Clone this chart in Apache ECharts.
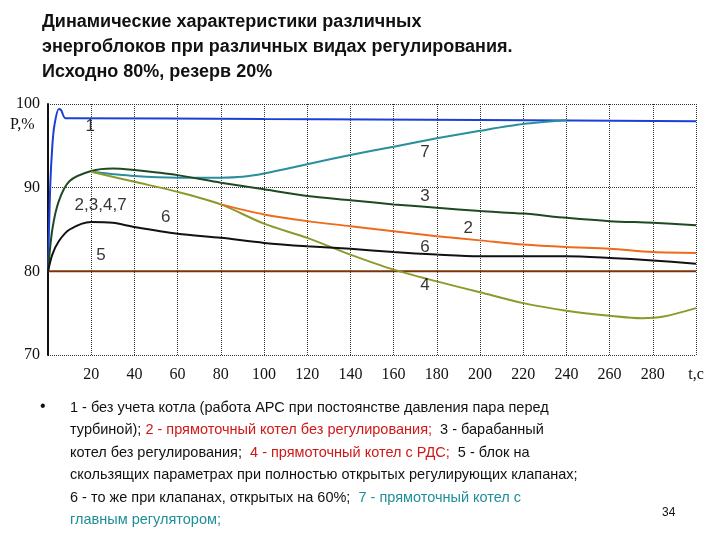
<!DOCTYPE html>
<html>
<head>
<meta charset="utf-8">
<script src="https://cdn.jsdelivr.net/npm/echarts@6/dist/echarts.min.js"></script>
<style>html,body{margin:0;padding:0;background:#fff}#chart{width:720px;height:540px}</style>
</head>
<body>
<div id="chart"></div>
<script>
// values, [t, P%]
var curve1 = [[0, 80], [1, 90], [2, 95], [3, 97.5], [5, 99.4], [6, 99.3], [8, 98.3], [10, 98.3], [100, 98.2], [200, 98.1], [300, 97.95]];
var curve3 = [[0, 80], [2, 85], [5, 88.4], [10, 90.8], [20, 92.0], [30, 92.3], [40, 92.1], [60, 91.5], [80, 90.6], [100, 89.8], [120, 89.0], [140, 88.5], [160, 88.0], [180, 87.6], [200, 87.2], [220, 86.9], [240, 86.4], [260, 86.0], [280, 85.8], [300, 85.5]];
var curve7 = [[20, 91.9], [40, 91.4], [60, 91.2], [80, 91.2], [90, 91.3], [100, 91.7], [120, 92.8], [140, 93.9], [160, 94.9], [180, 95.9], [200, 96.8], [220, 97.6], [240, 98.05]];
var curve4 = [[20, 91.9], [40, 90.7], [60, 89.5], [80, 88.0], [100, 85.7], [120, 84.0], [140, 82.0], [160, 80.2], [180, 78.8], [200, 77.5], [220, 76.2], [240, 75.3], [260, 74.7], [275, 74.4], [285, 74.6], [300, 75.6]];
var curve2 = [[80, 88.0], [100, 86.8], [120, 86.0], [140, 85.4], [160, 84.8], [180, 84.2], [200, 83.7], [220, 83.2], [240, 82.9], [260, 82.7], [280, 82.3], [300, 82.2]];
var curve56 = [[0, 80], [2, 82], [5, 83.6], [10, 85.0], [20, 85.9], [30, 85.8], [40, 85.3], [60, 84.5], [80, 84.0], [100, 83.4], [120, 83.0], [140, 82.7], [160, 82.3], [180, 82.0], [200, 81.8], [240, 81.8], [260, 81.6], [280, 81.3], [300, 80.9]];
var base80 = [[0, 80], [300, 80]];
var curveLabels = [['1', 15, 97.3], ['7', 170, 94.2], ['3', 170, 89.0], ['2', 190, 85.2], ['6', 170, 82.9], ['4', 170, 78.3], ['6', 50, 86.4], ['5', 20, 81.9], ['2,3,4,7', 10, 87.9]];

var chart = echarts.init(document.getElementById('chart'));

function line(data, color, w) {
    return {
        type: 'line', data: data, smooth: 0.3, showSymbol: false,
        lineStyle: { color: color, width: w || 2 }, z: 3
    };
}

function noteStyle(c) {
    return { fill: c, fontSize: 14.5, fontFamily: 'Liberation Sans', lineHeight: 22.5 };
}
var note = { k: noteStyle('#111'), r: noteStyle('#d01818'), g: noteStyle('#1e8f9a') };

var option = {
    animation: false,
    grid: { left: 48, right: 24, top: 104, bottom: 185 },
    xAxis: {
        type: 'value', min: 0, max: 300, interval: 20,
        axisLine: { show: false },
        axisTick: { show: false },
        axisLabel: {
            color: '#111', fontFamily: 'Liberation Serif', fontSize: 16, margin: 12,
            formatter: function (v) { return v === 0 ? '' : (v === 300 ? 't,c' : v); }
        },
        splitLine: { lineStyle: { color: '#333', type: 'dotted', width: 1 } }
    },
    yAxis: {
        type: 'value', min: 70, max: 100, interval: 10,
        axisLine: { show: true, lineStyle: { color: '#111', width: 2 } },
        axisTick: { show: false },
        axisLabel: { color: '#111', fontFamily: 'Liberation Serif', fontSize: 16, margin: 8 },
        splitLine: { lineStyle: { color: '#333', type: 'dotted', width: 1 } }
    },
    graphic: [
        { type: 'text', left: 42, top: 10, style: {
            text: 'Динамические характеристики различных\nэнергоблоков при различных видах регулирования.\nИсходно 80%, резерв 20%',
            font: 'bold 18px "Liberation Sans"', fill: '#111', lineHeight: 25 } },
        { type: 'text', left: 10, top: 117, style: { text: 'P,%', font: '16px "Liberation Serif"', fill: '#111' } },
        { type: 'text', left: 40, top: 399, style: { text: '•', font: '16px "Liberation Sans"', fill: '#111' } },
        { type: 'text', left: 70, top: 400, style: {
            text: '{k|1 - без учета котла (работа АРС при постоянстве давления пара перед}\n' +
                  '{k|турбиной); }{r|2 - прямоточный котел без регулирования;}{k|  3 - барабанный}\n' +
                  '{k|котел без регулирования;  }{r|4 - прямоточный котел с РДС;}{k|  5 - блок на}\n' +
                  '{k|скользящих параметрах при полностью открытых регулирующих клапанах;}\n' +
                  '{k|6 - то же при клапанах, открытых на 60%;  }{g|7 - прямоточный котел с}\n' +
                  '{g|главным регулятором;}',
            rich: note } },
        { type: 'text', left: 662, top: 507, style: { text: '34', font: '12px "Liberation Sans"', fill: '#111' } }
    ],
    series: [
        line(base80, '#7a3508', 2),
        line(curve1, '#1c3fd6'),
        line(curve7, '#2a8e9e'),
        line(curve3, '#1d4a22'),
        line(curve4, '#8c9a2c'),
        line(curve2, '#ef6a1c'),
        line(curve56, '#111111'),
        {
            type: 'scatter', symbolSize: 0, z: 5, silent: true,
            data: curveLabels.map(function (d) { return { value: [d[1], d[2]], name: d[0] }; }),
            label: { show: true, position: 'right', formatter: '{b}', color: '#000', fontSize: 17, fontFamily: 'Liberation Sans' }
        }
    ]
};

chart.setOption(option);
</script>
</body>
</html>
